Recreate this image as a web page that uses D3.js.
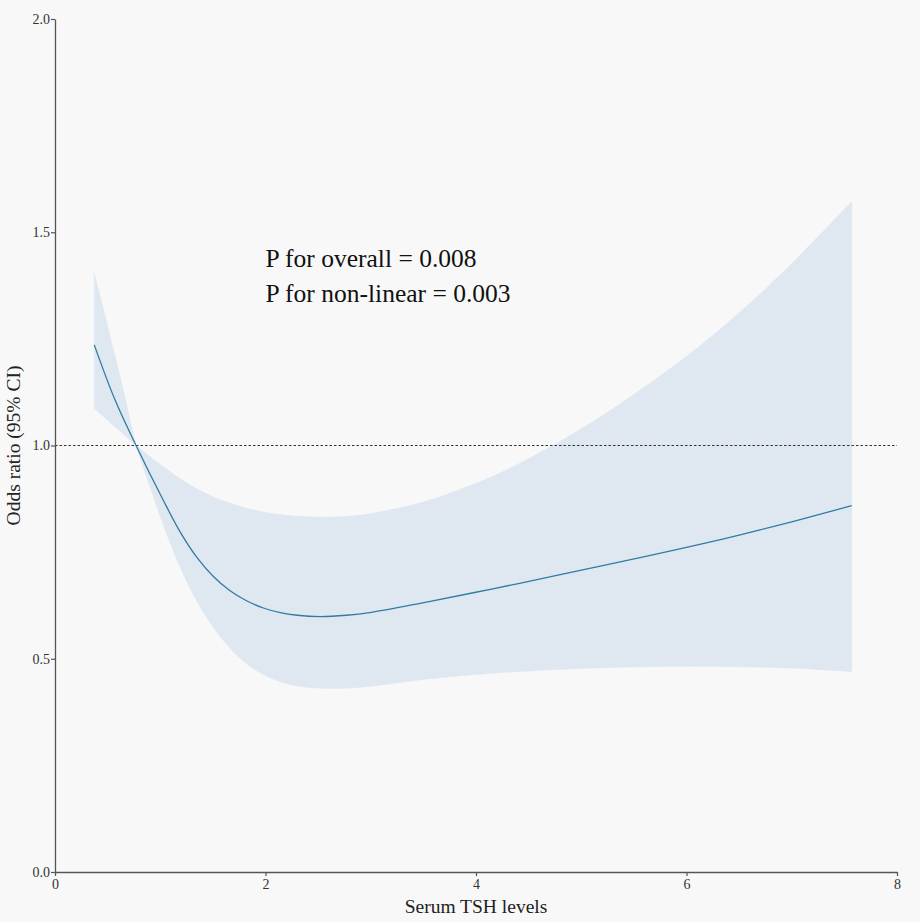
<!DOCTYPE html>
<html>
<head>
<meta charset="utf-8">
<script src="https://cdn.jsdelivr.net/npm/d3@7"></script>
<style>
  body { margin: 0; background: #f8f8f8; }
  svg { display: block; }
</style>
</head>
<body>
<svg id="chart" width="920" height="922"></svg>
<script>
// TSH level (x), odds ratio and its 95% CI
const tsh   = [0.373, 0.57, 0.77, 1.03, 1.19, 1.35, 1.50, 1.66, 1.82, 1.98, 2.14, 2.30, 2.52, 2.77, 2.99, 3.53, 4.16, 4.80, 5.37, 6.0, 6.5, 7.0, 7.57];
const or    = [1.236, 1.107, 1.0, 0.871, 0.797, 0.737, 0.694, 0.660, 0.636, 0.619, 0.608, 0.602, 0.599, 0.602, 0.608, 0.633, 0.664, 0.697, 0.727, 0.761, 0.790, 0.821, 0.859];
const upper = [1.405, 1.212, 1.0, 0.950, 0.922, 0.898, 0.880, 0.865, 0.853, 0.844, 0.838, 0.834, 0.832, 0.834, 0.840, 0.870, 0.928, 1.010, 1.098, 1.209, 1.311, 1.427, 1.572];
const lower = [1.086, 1.044, 1.0, 0.813, 0.714, 0.634, 0.575, 0.525, 0.488, 0.463, 0.446, 0.436, 0.431, 0.431, 0.435, 0.452, 0.466, 0.475, 0.480, 0.482, 0.481, 0.478, 0.470];
const refTsh = 0.77;   // reference point where the CI collapses

const xTicks = [0, 2, 4, 6, 8];
const yTicks = [0, 0.5, 1.0, 1.5, 2.0];
const pTexts = ["P for overall = 0.008", "P for non-linear = 0.003"];

const colors = {
  bg: "#f8f8f8",
  band: "#dfe8f0",
  line: "#2f7ca3",
  axis: "#555555",
  text: "#222222"
};
const serif = "'Liberation Serif', 'Times New Roman', Times, serif";

const svg = d3.select("#chart");
const width = 920, height = 922;
const margin = { left: 55, right: 23, top: 19, bottom: 50 };

svg.append("rect").attr("width", width).attr("height", height).attr("fill", colors.bg);

const x = d3.scaleLinear().domain([0, 8]).range([margin.left, width - margin.right]);
const y = d3.scaleLinear().domain([0, 2]).range([height - margin.bottom, margin.top]);

const rows = tsh.map((t, i) => ({ t, or: or[i], hi: upper[i], lo: lower[i] }));
// split at the reference so the band keeps its pinch
const segments = [rows.filter(d => d.t <= refTsh), rows.filter(d => d.t >= refTsh)];

const smooth = d3.curveCatmullRom.alpha(0.5);

const area = d3.area()
  .x(d => x(d.t))
  .y0(d => y(d.lo))
  .y1(d => y(d.hi))
  .curve(smooth);

const line = d3.line()
  .x(d => x(d.t))
  .y(d => y(d.or))
  .curve(smooth);

svg.selectAll("path.band")
  .data(segments)
  .enter().append("path")
  .attr("class", "band")
  .attr("d", area)
  .attr("fill", colors.band)
  .attr("stroke", colors.band)
  .attr("stroke-width", 0.5);

// reference line at OR = 1
svg.append("line")
  .attr("x1", x(0)).attr("x2", x(8))
  .attr("y1", y(1)).attr("y2", y(1))
  .attr("stroke", "#333")
  .attr("stroke-width", 1)
  .attr("stroke-dasharray", "2.5,2");

svg.append("path")
  .attr("d", line(rows))
  .attr("fill", "none")
  .attr("stroke", colors.line)
  .attr("stroke-width", 1.3);

// axes
const xAxis = svg.append("g")
  .attr("transform", `translate(0,${y(0)})`)
  .call(d3.axisBottom(x).tickValues(xTicks).tickFormat(d3.format("d")).tickSize(4).tickSizeOuter(0));

const yAxis = svg.append("g")
  .attr("transform", `translate(${x(0)},0)`)
  .call(d3.axisLeft(y).tickValues(yTicks).tickFormat(d3.format(".1f")).tickSize(4).tickSizeOuter(0));

[xAxis, yAxis].forEach(g => {
  g.select(".domain").attr("stroke", colors.axis).attr("stroke-width", 1.3);
  g.selectAll(".tick line").attr("stroke", colors.axis).attr("stroke-width", 1.2);
  g.selectAll(".tick text")
    .attr("fill", "#333")
    .style("font-family", serif)
    .style("font-size", "14px");
});
yAxis.selectAll(".tick text").attr("x", -5);

// axis titles
svg.append("text")
  .attr("x", x(4))
  .attr("y", 913)
  .attr("text-anchor", "middle")
  .attr("fill", colors.text)
  .style("font-family", serif)
  .style("font-size", "19.5px")
  .text("Serum TSH levels");

svg.append("text")
  .attr("transform", `translate(20,${y(1)}) rotate(-90)`)
  .attr("text-anchor", "middle")
  .attr("fill", colors.text)
  .style("font-family", serif)
  .style("font-size", "19.5px")
  .text("Odds ratio (95% CI)");

// annotation
svg.selectAll("text.ptext")
  .data(pTexts)
  .enter().append("text")
  .attr("class", "ptext")
  .attr("x", x(2))
  .attr("y", (d, i) => 267 + i * 35)
  .attr("fill", "#111")
  .style("font-family", serif)
  .style("font-size", "25.5px")
  .text(d => d);
</script>
</body>
</html>
